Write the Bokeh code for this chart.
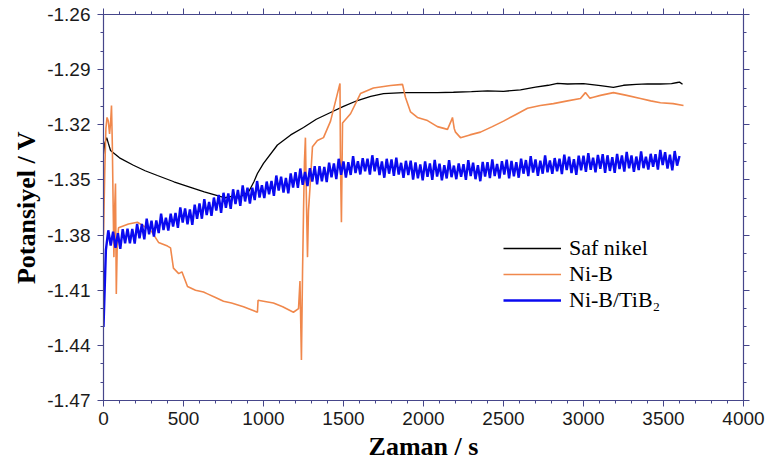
from bokeh.plotting import figure
from bokeh.models import LinearAxis, FixedTicker, Legend, LegendItem, Range1d, CustomJSTickFormatter
from bokeh.embed import file_html
from bokeh.resources import INLINE

# ---------------- data ----------------
saf_t = [0, 8, 20, 30, 44, 100, 187, 260, 337, 440, 544, 630, 712, 760, 800, 840, 880,
         910, 940, 962, 1000, 1087, 1170, 1250, 1330, 1419, 1500, 1587, 1670, 1750, 1875,
         1981, 2087, 2187, 2300, 2400, 2500, 2606, 2700, 2780, 2837, 2900, 3000, 3106,
         3187, 3250, 3330, 3400, 3480, 3550, 3587, 3600, 3619]
saf_v = [-1.336, -1.330, -1.327, -1.330, -1.334, -1.338, -1.342, -1.345, -1.3476, -1.351,
         -1.354, -1.3565, -1.3585, -1.3597, -1.359, -1.3598, -1.358, -1.356, -1.351, -1.3465,
         -1.341, -1.331, -1.3255, -1.3215, -1.317, -1.3133, -1.310, -1.3068, -1.3045, -1.303,
         -1.3025, -1.3025, -1.3025, -1.3023, -1.3020, -1.3015, -1.3018, -1.3010, -1.2995,
         -1.2985, -1.2975, -1.2978, -1.2976, -1.2987, -1.2997, -1.2985, -1.2980, -1.2977,
         -1.2978, -1.2976, -1.2970, -1.2968, -1.2980]

nib_t = [0, 8, 15, 22, 30, 38, 45, 50, 55, 60, 65, 70, 75, 80, 86, 94, 156, 212, 250, 300,
         344, 400, 419, 437, 470, 490, 525, 575, 625, 650, 700, 750, 800, 875, 962, 966,
         1000, 1062, 1120, 1187, 1219, 1228, 1237, 1244, 1250, 1256, 1262, 1268, 1275, 1281,
         1290, 1306, 1337, 1375, 1419, 1478, 1481, 1487, 1494, 1544, 1606, 1687, 1794, 1869,
         1887, 1919, 1962, 2025, 2087, 2150, 2175, 2181, 2192, 2200, 2231, 2290, 2356, 2430,
         2500, 2575, 2650, 2730, 2812, 2900, 2981, 3012, 3040, 3062, 3106, 3187, 3270, 3356,
         3420, 3481, 3560, 3625]
nib_v = [-1.380, -1.345, -1.322, -1.316, -1.318, -1.325, -1.318, -1.3095, -1.330, -1.362,
         -1.392, -1.365, -1.352, -1.412, -1.385, -1.376, -1.374, -1.373, -1.375, -1.378,
         -1.384, -1.386, -1.387, -1.398, -1.401, -1.400, -1.408, -1.410, -1.411, -1.412,
         -1.414, -1.416, -1.417, -1.419, -1.422, -1.4155, -1.416, -1.417, -1.419, -1.422,
         -1.420, -1.405, -1.448, -1.400, -1.368, -1.340, -1.327, -1.360, -1.392, -1.367,
         -1.355, -1.332, -1.3286, -1.327, -1.318, -1.2975, -1.340, -1.373, -1.319, -1.314,
         -1.303, -1.300, -1.2986, -1.298, -1.305, -1.313, -1.316, -1.3177, -1.321, -1.3225,
         -1.3175, -1.316, -1.322, -1.324, -1.327, -1.3255, -1.324, -1.321, -1.318, -1.3145,
         -1.311, -1.3095, -1.3085, -1.307, -1.3057, -1.3025, -1.3055, -1.305, -1.304,
         -1.3025, -1.304, -1.3057, -1.307, -1.308, -1.3085, -1.3095]

tib_step = 15  # sampling interval of the Ni-B/TiB2 record, s
tib_v = [
    -1.4300, -1.3880, -1.3774, -1.3857, -1.3782, -1.3869, -1.3790, -1.3875, -1.3768, -1.3845,
    -1.3765, -1.3845, -1.3766, -1.3846, -1.3739, -1.3817, -1.3740, -1.3823, -1.3711, -1.3796,
    -1.3722, -1.3808, -1.3721, -1.3789, -1.3684, -1.3773, -1.3705, -1.3775, -1.3684, -1.3753,
    -1.3680, -1.3761, -1.3650, -1.3732, -1.3655, -1.3741, -1.3660, -1.3744, -1.3635, -1.3711,
    -1.3628, -1.3711, -1.3605, -1.3691, -1.3620, -1.3695, -1.3596, -1.3667, -1.3582, -1.3679,
    -1.3570, -1.3652, -1.3574, -1.3657, -1.3551, -1.3631, -1.3555, -1.3641, -1.3530, -1.3617,
    -1.3542, -1.3628, -1.3542, -1.3610, -1.3506, -1.3596, -1.3529, -1.3599, -1.3509, -1.3578,
    -1.3505, -1.3586, -1.3476, -1.3558, -1.3482, -1.3569, -1.3489, -1.3573, -1.3465, -1.3541,
    -1.3458, -1.3543, -1.3438, -1.3526, -1.3457, -1.3533, -1.3436, -1.3509, -1.3425, -1.3524,
    -1.3425, -1.3507, -1.3429, -1.3512, -1.3406, -1.3486, -1.3410, -1.3496, -1.3385, -1.3472,
    -1.3399, -1.3487, -1.3403, -1.3473, -1.3371, -1.3463, -1.3398, -1.3470, -1.3382, -1.3453,
    -1.3385, -1.3471, -1.3366, -1.3453, -1.3382, -1.3474, -1.3399, -1.3488, -1.3385, -1.3466,
    -1.3389, -1.3478, -1.3379, -1.3471, -1.3407, -1.3488, -1.3396, -1.3473, -1.3395, -1.3498,
    -1.3405, -1.3491, -1.3416, -1.3502, -1.3399, -1.3483, -1.3410, -1.3499, -1.3391, -1.3482,
    -1.3412, -1.3502, -1.3420, -1.3492, -1.3392, -1.3485, -1.3422, -1.3496, -1.3410, -1.3483,
    -1.3415, -1.3500, -1.3393, -1.3479, -1.3406, -1.3496, -1.3420, -1.3507, -1.3402, -1.3482,
    -1.3403, -1.3490, -1.3388, -1.3479, -1.3413, -1.3492, -1.3398, -1.3471, -1.3390, -1.3491,
    -1.3396, -1.3480, -1.3404, -1.3488, -1.3384, -1.3466, -1.3392, -1.3479, -1.3371, -1.3460,
    -1.3389, -1.3478, -1.3395, -1.3466, -1.3366, -1.3458, -1.3394, -1.3467, -1.3381, -1.3453,
    -1.3384, -1.3468, -1.3362, -1.3446, -1.3374, -1.3463, -1.3387, -1.3472, -1.3368, -1.3447,
    -1.3368, -1.3456, -1.3355, -1.3445, -1.3379, -1.3459, -1.3364, -1.3440, -1.3360, -1.3461,
    -1.3366, -1.3451, -1.3376, -1.3461, -1.3358, -1.3441, -1.3367, -1.3455, -1.3347, -1.3437,
    -1.3367, -1.3456, -1.3373, -1.3446, -1.3345, -1.3436, -1.3374, -1.3444, -1.3358, -1.3429,
    -1.3360, -1.3444, -1.3337, -1.3419, -1.3349, -1.3438, -1.3363, -1.3448, -1.3343, -1.3422,
    -1.3370,
]
tib_t = [i * tib_step for i in range(len(tib_v))]

x_major = [0, 500, 1000, 1500, 2000, 2500, 3000, 3500, 4000]
x_minor = [i * 100 for i in range(41)]
y_major = [-1.47, -1.44, -1.41, -1.38, -1.35, -1.32, -1.29, -1.26]
y_minor = [round(-1.47 + i * 0.01, 2) for i in range(22)]

labels = ["Saf nikel", "Ni-B", "Ni-B/TiB\u2082"]
colors = ["#000000", "#F0884C", "#0A0AF0"]

AX = "#46468a"

W, H = 765, 464
p = figure(width=W, height=H, x_range=Range1d(0, 4000), y_range=Range1d(-1.47, -1.26),
           output_backend="svg", toolbar_location=None,
           min_border_left=103, min_border_right=W - 743, min_border_top=14,
           min_border_bottom=H - 400)
p.grid.visible = False
p.outline_line_color = AX
p.background_fill_color = "white"
p.border_fill_color = "white"

r_saf = p.line(saf_t, saf_v, line_color=colors[0], line_width=1.3)
r_nib = p.line(nib_t, nib_v, line_color=colors[1], line_width=1.6)
r_tib = p.line(tib_t, tib_v, line_color=colors[2], line_width=2.4)

def style(ax, ticks, minor, show_labels):
    ax.ticker = FixedTicker(ticks=ticks, minor_ticks=minor)
    ax.axis_line_color = AX
    ax.major_tick_line_color = AX
    ax.minor_tick_line_color = AX
    ax.major_tick_out = 6
    ax.major_tick_in = 0
    ax.minor_tick_out = 3
    ax.minor_tick_in = 0
    ax.axis_line_width = 1.2
    if show_labels:
        ax.major_label_text_font = "Liberation Sans"
        ax.major_label_text_font_size = "19px"
        ax.major_label_text_color = "#1a1a1a"
        ax.axis_label_text_font = "Liberation Serif"
        ax.axis_label_text_font_style = "bold"
        ax.axis_label_text_font_size = "26px"
        ax.axis_label_text_color = "#000000"
    else:
        ax.formatter = CustomJSTickFormatter(code="return ''")
        ax.major_label_standoff = 0

style(p.xaxis[0], x_major, x_minor, True)
style(p.yaxis[0], y_major, y_minor, True)
p.yaxis[0].formatter = CustomJSTickFormatter(code="return tick.toFixed(2)")
p.xaxis[0].major_label_standoff = 5
p.yaxis[0].major_label_standoff = 7
p.xaxis[0].axis_label = "Zaman / s"
p.yaxis[0].axis_label = "Potansiyel / V"
p.xaxis[0].axis_label_standoff = 4
p.yaxis[0].axis_label_standoff = 3

top = LinearAxis()
right = LinearAxis()
style(top, x_major, x_minor, False)
style(right, y_major, y_minor, False)
p.add_layout(top, "above")
p.add_layout(right, "right")

legend = Legend(items=[LegendItem(label=labels[0], renderers=[r_saf]),
                       LegendItem(label=labels[1], renderers=[r_nib]),
                       LegendItem(label=labels[2], renderers=[r_tib])],
                location=(400, 87), orientation="vertical")
legend.border_line_color = None
legend.background_fill_alpha = 0
legend.padding = 0
legend.margin = 0
legend.spacing = 0
legend.label_height = 24
legend.glyph_height = 24
legend.glyph_width = 58
legend.label_standoff = 8
legend.label_text_font = "Liberation Serif"
legend.label_text_font_size = "22px"
legend.label_text_color = "#000000"
p.add_layout(legend)

open("out.html", "w").write(file_html(p, INLINE))
